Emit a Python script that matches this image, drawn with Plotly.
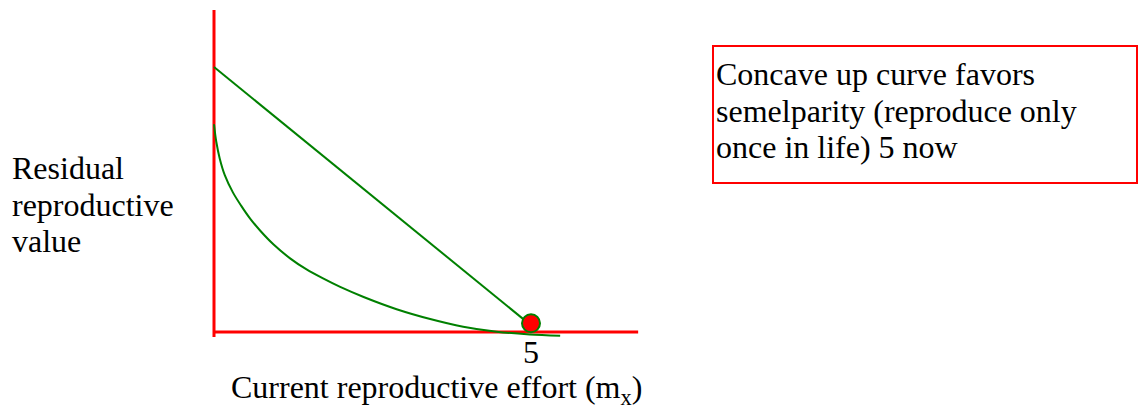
import plotly.graph_objects as go

W, H = 1143, 409

# straight line (linear trade-off) and concave-up curve, in data units
line_x = [0, 5]
line_y = [10, 0.25]

curve_x = [0, 0.036, 0.09, 0.17, 0.30, 0.43, 0.57, 0.73, 0.94, 1.20, 1.46, 1.72, 1.99,
           2.36, 2.88, 3.41, 3.93, 4.46, 4.98, 5.46]
curve_y = [7.84, 7.18, 6.55, 5.92, 5.26, 4.76, 4.28, 3.82, 3.30, 2.78, 2.36, 2.02, 1.70,
           1.32, 0.86, 0.49, 0.20, 0.01, -0.09, -0.14]

optimum_x = [5]
optimum_y = [0.33]

axis_x_end = 6.69
axis_y_top = 12.15
tick_vals = [5]
tick_text = ["5"]

box_lines = ["Concave up curve favors", "semelparity (reproduce only", "once in life) 5 now"]
ylab_lines = ["Residual", "reproductive", "value"]
xlab = "Current reproductive effort (m<sub>x</sub>)"

FONT = "Liberation Serif"
FS = 32

fig = go.Figure()

# axes drawn as red lines
fig.add_trace(go.Scatter(x=[0, 0], y=[-0.19, axis_y_top], mode="lines",
                         line=dict(color="#ff0000", width=3), hoverinfo="skip"))
fig.add_trace(go.Scatter(x=[0, axis_x_end], y=[0, 0], mode="lines",
                         line=dict(color="#ff0000", width=3), hoverinfo="skip"))

fig.add_trace(go.Scatter(x=line_x, y=line_y, mode="lines",
                         line=dict(color="#008000", width=2)))
fig.add_trace(go.Scatter(x=curve_x, y=curve_y, mode="lines", line_shape="spline",
                         line=dict(color="#008000", width=2, smoothing=0.9)))
fig.add_trace(go.Scatter(x=optimum_x, y=optimum_y, mode="markers",
                         marker=dict(size=18, color="#ff0000",
                                     line=dict(color="#008000", width=2))))

# pixel-to-data mapping: x=0 at px 214, 5 units = 317 px; y=0 at px 332, 10 units = 265 px
sx = 317 / 5
sy = 265 / 10
fig.update_xaxes(range=[-214 / sx, (W - 214) / sx], visible=False, fixedrange=True)
fig.update_yaxes(range=[-(H - 332) / sy, 332 / sy], visible=False, fixedrange=True)

ann = []
for v, t in zip(tick_vals, tick_text):
    ann.append(dict(x=v, y=-(352 - 332) / sy, xref="x", yref="y", text=t,
                    showarrow=False, xanchor="center", yanchor="middle",
                    font=dict(size=FS, color="black", family=FONT)))

ann.append(dict(x=436 / W, y=1 - 389 / H, xref="paper", yref="paper", text=xlab,
                showarrow=False, xanchor="center", yanchor="middle",
                font=dict(size=FS, color="black", family=FONT)))

for i, t in enumerate(ylab_lines):
    ann.append(dict(x=10 / W, y=1 - (168 + i * 36.7) / H, xref="paper", yref="paper",
                    text=t, showarrow=False, xanchor="left", yanchor="middle",
                    font=dict(size=FS, color="black", family=FONT)))

for i, t in enumerate(box_lines):
    ann.append(dict(x=714 / W, y=1 - (74 + i * 36.7) / H, xref="paper", yref="paper",
                    text=t, showarrow=False, xanchor="left", yanchor="middle",
                    font=dict(size=FS, color="black", family=FONT)))

fig.add_shape(type="rect", xref="paper", yref="paper",
              x0=713 / W, x1=1137 / W, y0=1 - 183 / H, y1=1 - 46 / H,
              line=dict(color="#ff0000", width=2), fillcolor="rgba(0,0,0,0)")

fig.update_layout(
    width=W, height=H,
    margin=dict(l=0, r=0, t=0, b=0),
    paper_bgcolor="white", plot_bgcolor="white",
    showlegend=False,
    annotations=ann,
)

# drop the browser's default 8px body margin so the figure sits at the window corner
fig.write_html("out.html", config={"displayModeBar": False},
               post_script="document.body.style.margin='0';")
